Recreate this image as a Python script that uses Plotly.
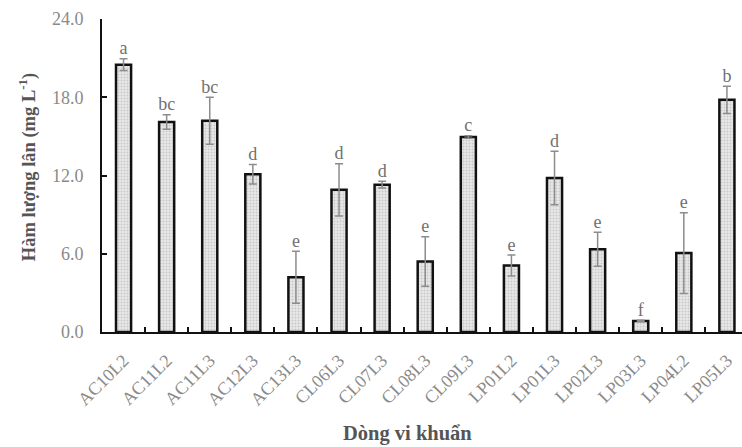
import plotly.graph_objects as go

# Phosphate solubilised by each bacterial strain (mg/L), mean ± SD, with significance groups
strains = ["AC10L2", "AC11L2", "AC11L3", "AC12L3", "AC13L3", "CL06L3", "CL07L3", "CL08L3",
           "CL09L3", "LP01L2", "LP01L3", "LP02L3", "LP03L3", "LP04L2", "LP05L3"]
means = [20.5, 16.1, 16.2, 12.1, 4.2, 10.9, 11.3, 5.4, 14.95, 5.1, 11.8, 6.35, 0.85, 6.05, 17.8]
sds = [0.45, 0.55, 1.8, 0.75, 2.0, 2.0, 0.25, 1.9, 0.1, 0.8, 2.05, 1.3, 0.05, 3.1, 1.05]
groups = ["a", "bc", "bc", "d", "e", "d", "d", "e", "c", "e", "d", "e", "f", "e", "b"]
y_ticks = [0, 6, 12, 18, 24]

SERIF = "Liberation Serif, Times New Roman, serif"
GREY = "#8a8a8a"
TITLE_GREY = "#555555"

fig = go.Figure()

fig.add_trace(go.Bar(
    x=strains, y=means, width=0.35,
    marker=dict(
        color="#e4e4e4",
        line=dict(color="#111111", width=2.5),
        pattern=dict(shape=".", fgcolor="#a8a8a8", bgcolor="#e8e8e8", size=3, solidity=0.35),
    ),
    error_y=dict(type="data", array=sds, visible=True, color="#8c8c8c", thickness=1.5, width=4),
    showlegend=False, hoverinfo="skip",
))

# Significance letters above each error bar
fig.add_trace(go.Scatter(
    x=strains, y=[m + s for m, s in zip(means, sds)],
    mode="text", text=groups, textposition="top center",
    textfont=dict(family=SERIF, size=18, color="#707070"),
    showlegend=False, hoverinfo="skip",
))

fig.update_layout(
    width=742, height=447,
    margin=dict(l=102, r=0, t=19, b=115),
    paper_bgcolor="white", plot_bgcolor="white",
    font=dict(family=SERIF, color=GREY),
    bargap=0.65,
    annotations=[
        dict(text="<b>Dòng vi khuẩn</b>", xref="paper", yref="paper",
             x=0.478, y=-0.323, xanchor="center", yanchor="middle", showarrow=False,
             font=dict(family=SERIF, size=20.5, color=TITLE_GREY)),
        dict(text="<b>Hàm lượng lân (mg L<sup>-1</sup>)</b>", xref="paper", yref="paper",
             x=-0.117, y=0.527, xanchor="center", yanchor="middle", showarrow=False,
             textangle=-90, font=dict(family=SERIF, size=18.5, color=TITLE_GREY)),
    ],
)

fig.update_xaxes(
    type="category", range=[-0.5, 14.35],
    showline=True, linecolor="#111111", linewidth=2,
    ticks="inside", tickson="boundaries", ticklen=5, tickwidth=2, tickcolor="#111111",
    tickangle=-45, tickfont=dict(family=SERIF, size=18, color=GREY),
    ticklabelstandoff=9,
    showgrid=False, zeroline=False,
)

fig.update_yaxes(
    range=[0, 24], tickvals=y_ticks, ticktext=[f"{v:.1f}" for v in y_ticks],
    showline=True, linecolor="#111111", linewidth=2,
    ticks="inside", ticklen=5, tickwidth=2, tickcolor="#111111",
    tickfont=dict(family=SERIF, size=18, color=GREY),
    ticklabelstandoff=13,
    showgrid=False, zeroline=False,
)

fig.write_html("out.html")
